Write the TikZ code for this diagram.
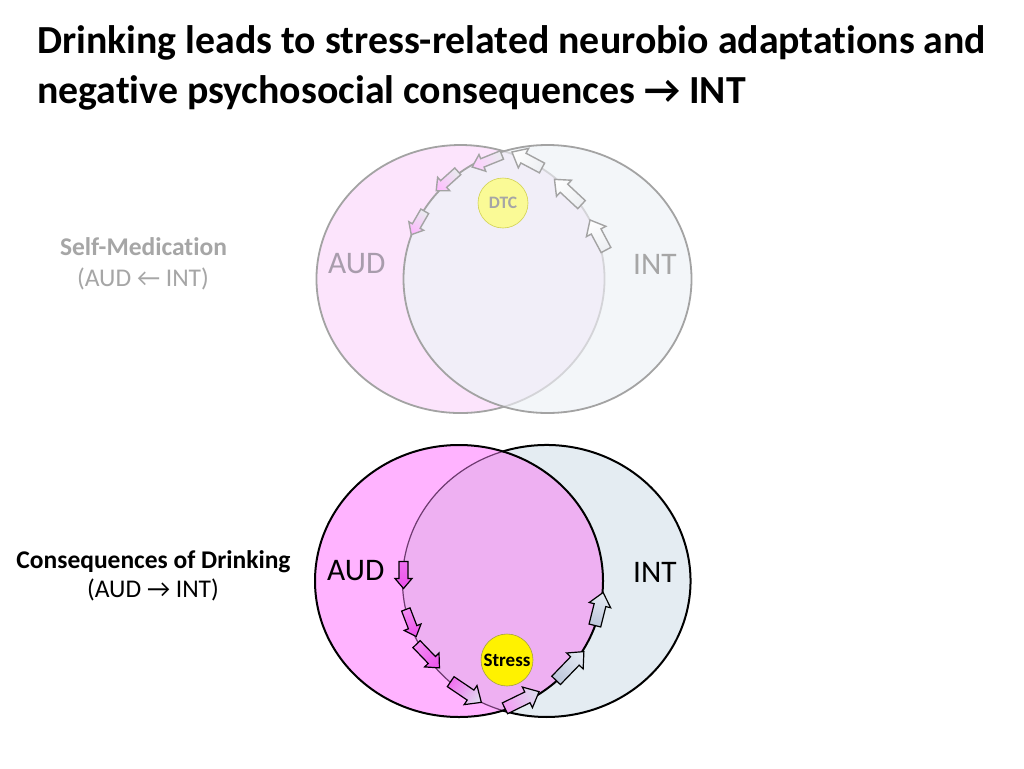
\documentclass[tikz,border=0pt]{standalone}
\usepackage{fontspec}
\setmainfont[Ligatures=NoCommon]{Carlito}
\definecolor{audTop}{HTML}{FCE4FC}
\definecolor{intTop}{HTML}{F3F6F9}
\definecolor{ovTop}{HTML}{F1EEF8}
\definecolor{lineTop}{HTML}{A3A3A3}
\definecolor{lineTopLight}{HTML}{D4D4D8}
\definecolor{audBot}{HTML}{FFB3FF}
\definecolor{intBot}{HTML}{E4ECF2}
\definecolor{ovBot}{HTML}{EEB0F2}
\definecolor{innerBot}{HTML}{6E3A70}
\definecolor{fadeTxt}{HTML}{A6A6A6}
\definecolor{fadeAud}{HTML}{A89CAC}
\definecolor{dtcFill}{HTML}{FAFA96}
\definecolor{bgDark}{HTML}{BCC6DA}
\definecolor{bgLight}{HTML}{E8EDF5}
\definecolor{magTail}{HTML}{F070F0}
\definecolor{magHead}{HTML}{EC50EC}
\newcommand{\barrow}[8]{%
  \begin{scope}[transform canvas={shift={(#1,#2)},rotate=#3}]
    \path[#8] ({-#4/2},{-#5}) -- ({#4/2-#7},{-#5}) -- ({#4/2-#7},{-#6}) -- ({#4/2},0)
      -- ({#4/2-#7},{#6}) -- ({#4/2-#7},{#5}) -- ({-#4/2},{#5}) -- cycle;
  \end{scope}}
\begin{document}
\begin{tikzpicture}[x=1pt,y=-1pt,
  titletxt/.style={anchor=base west,inner sep=0,font=\fontsize{39.8}{46}\selectfont\bfseries},
  sidetxt/.style={anchor=base,inner sep=0,font=\fontsize{25.5}{30}\selectfont},
  sidebold/.style={anchor=base,inner sep=0,font=\fontsize{25.5}{30}\selectfont\bfseries},
  setlbl/.style={anchor=base west,inner sep=0,font=\fontsize{31.4}{36}\selectfont},
  topArrow/.style={draw=lineTop,line width=1.4pt,line join=miter},
  botArrow/.style={draw=black,line width=1.2pt,line join=miter}]
\useasboundingbox[fill=white] (0,0) rectangle (1024,768);

% ---------- title ----------
\node[titletxt] (title1) at (37,53) {Drinking leads to stress-related neurobio adaptations and};
\node[titletxt] (title2) at (37,103) {negative psychosocial consequences → INT};

% ---------- top Venn (faded) ----------
\def\audT{(460.5,279) ellipse [x radius=144,y radius=134]}
\def\intT{(547.5,279) ellipse [x radius=144,y radius=134]}
\fill[audTop] \audT;
\fill[intTop] \intT;
\begin{scope}
  \clip \audT;
  \fill[ovTop] \intT;
\end{scope}
% AUD outline: outside INT (dark), inside INT (light)
\draw[lineTop,line width=1.8pt] ([shift={(72.4:144 and 134)}]460.5,279)
   arc[start angle=72.4,end angle=287.6,x radius=144,y radius=134];
\draw[lineTopLight,line width=1.8pt] ([shift={(-72.4:144 and 134)}]460.5,279)
   arc[start angle=-72.4,end angle=72.4,x radius=144,y radius=134];
\draw[lineTop,line width=1.8pt] \intT;

\node[setlbl,text=fadeAud] (audT) at (328,273) {AUD};
\node[setlbl,text=fadeTxt] (intT) at (633,274) {INT};

\node[circle,draw=lineTop!50!yellow,line width=0.6pt,fill=dtcFill,minimum size=50pt,inner sep=0,
      text=fadeTxt,font=\fontsize{17.5}{20}\selectfont\bfseries] (dtc) at (503,203) {DTC};

% top arrows: up along AUD arc, then down along INT arc
\barrow{598}{235}{118}{34}{5.5}{11}{13}{topArrow,left color=intTop!80!lineTopLight,right color=white}
\barrow{568}{192}{137}{37}{5.5}{11}{13}{topArrow,left color=intTop!80!lineTopLight,right color=white}
\barrow{527}{160}{152}{34}{5.5}{11}{13}{topArrow,left color=intTop!80!lineTopLight,right color=white}
\barrow{487}{161}{202}{32}{4.5}{9}{11}{topArrow,left color=intTop!70!lineTopLight,right color=magenta!20}
\barrow{447}{181}{222}{29}{4.5}{9}{10}{topArrow,left color=intTop!70!lineTopLight,right color=magenta!28}
\barrow{418}{223}{240}{27}{4.5}{8.5}{10}{topArrow,left color=intTop!70!lineTopLight,right color=magenta!30}

% ---------- bottom Venn ----------
\def\audB{(459,581) ellipse [x radius=144,y radius=136]}
\def\intB{(546.5,581) ellipse [x radius=144,y radius=136]}
\fill[audBot] \audB;
\fill[intBot] \intB;
\begin{scope}
  \clip \audB;
  \fill[ovBot] \intB;
\end{scope}
% INT outline: outside AUD (black), inside AUD (thin purple)
\draw[black,line width=2pt] ([shift={(-107.7:144 and 136)}]546.5,581)
   arc[start angle=-107.7,end angle=107.7,x radius=144,y radius=136];
\draw[innerBot,line width=1.2pt] ([shift={(107.7:144 and 136)}]546.5,581)
   arc[start angle=107.7,end angle=252.3,x radius=144,y radius=136];
\draw[black,line width=2pt] \audB;

\node[setlbl,text=black] (audB) at (327,580) {AUD};
\node[setlbl,text=black] (intB) at (633,582) {INT};

\node[circle,draw=yellow!60!black,line width=0.6pt,fill=yellow,minimum size=52pt,inner sep=0,
      font=\fontsize{19}{22}\selectfont\bfseries] (stress) at (507,660) {Stress};

% bottom arrows: down along INT arc, then up along AUD arc
\barrow{403.5}{575}{-90}{27}{4.5}{8.5}{10}{botArrow,left color=magTail,right color=magHead}
\barrow{411}{623}{-69}{29}{4.5}{9}{10}{botArrow,left color=magTail!80!white,right color=magHead}
\barrow{428}{656}{-46}{33}{5}{10}{11}{botArrow,left color=magTail!80!white,right color=magHead}
\barrow{466}{692}{-34}{37}{6}{11.5}{13}{botArrow,left color=magTail,right color=bgLight!80!bgDark}
\barrow{522}{700}{26}{38}{6}{11.5}{13}{botArrow,left color=magTail!70!white,right color=bgLight!70!bgDark}
\barrow{570}{666}{46}{40}{6}{11.5}{13}{botArrow,left color=bgDark,right color=bgLight}
\barrow{599}{609}{76}{34}{6}{11}{13}{botArrow,left color=bgDark,right color=bgLight}

% ---------- side labels ----------
\node[sidebold,text=fadeTxt] (sm1) at (143.5,255) {Self-Medication};
\node[sidetxt,text=fadeTxt] (sm2) at (143,286) {(AUD ← INT)};
\node[sidebold,text=black] (cd1) at (153.5,568) {Consequences of Drinking};
\node[sidetxt,text=black] (cd2) at (153,597) {(AUD → INT)};
\end{tikzpicture}
\end{document}
